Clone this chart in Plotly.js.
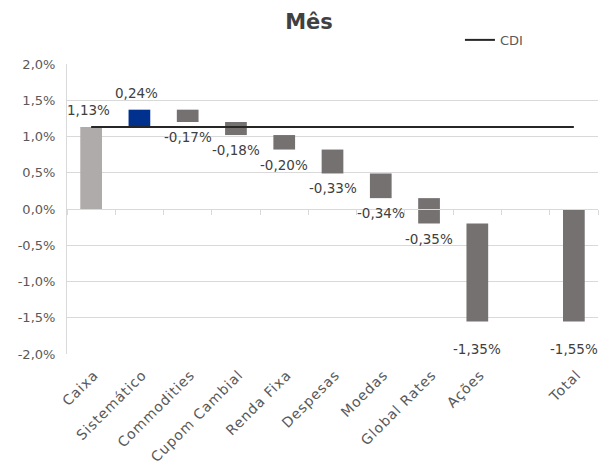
<!DOCTYPE html>
<html>
<head>
<meta charset="utf-8">
<script src="https://cdn.plot.ly/plotly-3.0.1.min.js"></script>
<style>html,body{margin:0;padding:0;background:#fff;}#chart{width:600px;height:468px;}
.xtick text{letter-spacing:0.9px;}</style>
</head>
<body>
<div id="chart"></div>
<script>
// ---- data ----
const categories = ['Caixa','Sistemático','Commodities','Cupom Cambial','Renda Fixa','Despesas','Moedas','Global Rates','Ações',' ','Total'];
const barCategories = ['Caixa','Sistemático','Commodities','Cupom Cambial','Renda Fixa','Despesas','Moedas','Global Rates','Ações','Total'];
const barValues = [1.13, 0.24, -0.17, -0.18, -0.20, -0.33, -0.34, -0.35, -1.35, -1.55];
const barKinds = ['absolute','relative','relative','relative','relative','relative','relative','relative','relative','total'];
const cdiValue = 1.13;
const yTicks = [-2, -1.5, -1, -0.5, 0, 0.5, 1, 1.5, 2];
const yTickLabels = ['-2,0%','-1,5%','-1,0%','-0,5%','0,0%','0,5%','1,0%','1,5%','2,0%'];

// ---- styles ----
const colStart = '#AFABAB', colUp = '#00318F', colDown = '#767171';
const FONT = 'DejaVu Sans, sans-serif';
const yRange = [-2, 2];

// waterfall bases
let run = 0;
const bases = [], colors = [];
barValues.forEach((v, i) => {
  const k = barKinds[i];
  if (k === 'absolute') { bases.push(0); run = v; colors.push(colStart); }
  else if (k === 'total') { bases.push(0); colors.push(colDown); }
  else { bases.push(run); run += v; colors.push(v >= 0 ? colUp : colDown); }
});
const fmt = v => v.toFixed(2).replace('.', ',') + '%';

const annotations = barValues.map((v, i) => {
  const k = barKinds[i];
  const top = bases[i] + v;
  const a = {x: barCategories[i], xref: 'x', yref: 'y', text: fmt(v), showarrow: false,
             font: {family: FONT, size: 13.5, color: '#404040'}};
  if (v >= 0) { a.y = top; a.yanchor = 'bottom'; a.yshift = 7; a.xshift = -3; }
  else if (k === 'total' || Math.abs(v) > 1) { a.y = yRange[0]; a.yanchor = 'middle'; a.yshift = 5; }
  else { a.y = top; a.yanchor = 'top'; a.yshift = -5; }
  return a;
});

const traces = [
  {type: 'bar', x: barCategories, y: barValues, base: bases, marker: {color: colors},
   width: 0.45, showlegend: false, hoverinfo: 'skip'},
  {type: 'scatter', mode: 'lines', name: 'CDI', x: categories, y: categories.map(() => cdiValue),
   xaxis: 'x2', line: {color: '#262626', width: 2}}
];

const layout = {
  width: 600, height: 468,
  margin: {l: 67, r: 2, t: 64, b: 114},
  paper_bgcolor: '#fff', plot_bgcolor: '#fff',
  font: {family: FONT, size: 13, color: '#595959'},
  title: {text: '<b>Mês</b>', font: {family: FONT, size: 21, color: '#404040'},
          x: 0.515, xref: 'container', xanchor: 'center', y: 0.953, yref: 'container', yanchor: 'middle'},
  xaxis: {type: 'category', categoryorder: 'array', categoryarray: categories, range: [-0.5, 10.5],
          tickangle: -45, showgrid: false, showline: false, zeroline: false, ticks: '',
          ticklabelstandoff: 9, ticklabelshift: 3,
          tickfont: {family: FONT, size: 14, color: '#595959'}},
  xaxis2: {type: 'category', categoryorder: 'array', categoryarray: categories, range: [-0.5, 10.5],
           overlaying: 'x', anchor: 'free', position: 0.5, side: 'bottom',
           showticklabels: false, showgrid: false, zeroline: false,
           showline: true, linecolor: '#D9D9D9', linewidth: 1,
           ticks: 'outside', tickson: 'boundaries', ticklen: 5, tickcolor: '#D9D9D9'},
  yaxis: {range: yRange, tickvals: yTicks, ticktext: yTickLabels, showgrid: true, gridcolor: '#D9D9D9',
          zeroline: false, showline: true, linecolor: '#D9D9D9', ticks: '', ticklabelstandoff: 8,
          tickfont: {family: FONT, size: 13, color: '#595959'}},
  legend: {orientation: 'h', x: 0.74, xanchor: 'left', y: 1.083, yanchor: 'middle',
           font: {family: FONT, size: 13, color: '#595959'}, bgcolor: 'rgba(0,0,0,0)'},
  annotations: annotations,
  bargap: 0.55
};

Plotly.newPlot('chart', traces, layout, {displayModeBar: false, staticPlot: true});
</script>
</body>
</html>
